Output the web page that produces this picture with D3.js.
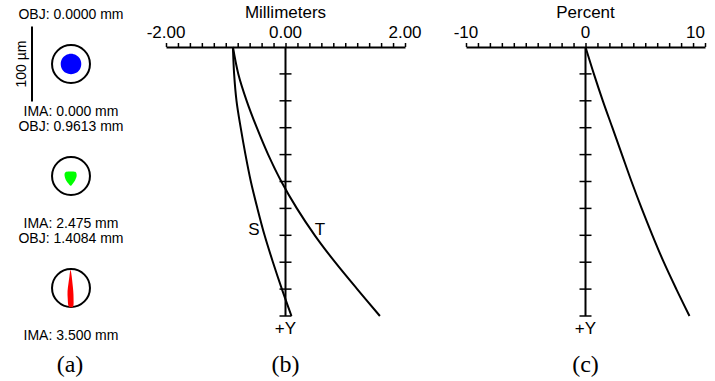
<!DOCTYPE html>
<head>
   <meta charset="utf-8">
   <script src="https://d3js.org/d3.v7.min.js"></script>
   <style>
   body{ margin: 0; background: #ffffff; }
   text{
      font-family: "Liberation Sans", Arial, sans-serif;
      font-size: 17px;
      fill: #000000;
   }
   text.spotLabel{ font-size: 14px; }
   text.scaleLabel{ font-size: 14px; }
   text.panel{
      font-family: "Liberation Serif", "Times New Roman", serif;
      font-size: 24px;
   }
   .tick line{ stroke: #000000; stroke-width: 1.5; }
   path.domain{ stroke: #000000; stroke-width: 2; }
   path.curve{ fill: none; stroke: #000000; stroke-width: 2; }
   </style>
   <title>Spot diagram, field curvature, distortion</title>
</head>
<body>
<script>
const width  = 715;
const height = 381;

// normalised field (0 = on axis, 1 = +Y full field)
const fieldFrac  = [0, 0.1, 0.2, 0.3, 0.4, 0.5, 0.6, 0.7, 0.8, 0.9, 1.0];
// field curvature, mm
const sagittal   = [-0.88, -0.86, -0.82, -0.75, -0.67, -0.58, -0.47, -0.35, -0.21, -0.06, 0.10];
const tangential = [-0.88, -0.79, -0.65, -0.48, -0.29, -0.07, 0.19, 0.49, 0.83, 1.20, 1.58];
// distortion, percent
const distortion = [0, 0.7, 1.45, 2.25, 3.05, 3.85, 4.7, 5.6, 6.55, 7.6, 8.7];

const mmTickLabels  = [-2, 0, 2];
const pctTickLabels = [-10, 0, 10];

// spot diagrams (um, relative to chief ray)
const objLabels = ["OBJ: 0.0000 mm", "OBJ: 0.9613 mm", "OBJ: 1.4084 mm"];
const imaLabels = ["IMA: 0.000 mm", "IMA: 2.475 mm", "IMA: 3.500 mm"];
const spotColours = ["#0000ff", "#00ff00", "#ff0000"];
const airyRadius = 25.3;
const spotBlue  = [[0,-13.7],[7,-11.8],[11.9,-6.9],[13.7,0],[11.9,6.9],[7,11.8],[0,13.7],[-7,11.8],[-11.9,6.9],[-13.7,0],[-11.9,-6.9],[-7,-11.8]];
const spotGreen = [[-8,-4.5],[-4,-6],[2,-6],[6.5,-5],[7.5,0],[5.5,5.5],[2,10.5],[-0.5,13],[-3.5,10],[-7,5],[-8.5,0]];
const spotRed   = [[-0.6,-24],[0.9,-16],[2,-6],[3,4],[3.4,14],[2.8,24.5],[-3,24.5],[-4.4,14],[-4.6,4],[-3.4,-6],[-2,-16]];
const spots = [spotBlue, spotGreen, spotRed];

const svg = d3.select("body").append("svg")
   .attr("width", width)
   .attr("height", height);

const yTop = 47, yBot = 316;

let y = d3.scaleLinear().domain([0, 1]).range([yTop, yBot]);
let xMm = d3.scaleLinear().domain([-2, 2]).range([166, 405]);
let xPct = d3.scaleLinear().domain([-10, 10]).range([466, 705]);

// plain hyphen instead of the unicode minus d3.format gives
const hyphen = f => (d => f(d).replace("\u2212", "-"));

function drawPanel(x, minor, labels, fmt, title, series, panelName){
   const x0 = x(0);

   svg.append("g")
      .attr("transform", `translate(0, ${yTop})`)
      .call(d3.axisTop(x).tickValues(minor).tickSize(4).tickSizeOuter(0).tickFormat(""));

   svg.append("text")
      .attr("x", x0).attr("y", 18)
      .style("text-anchor", "middle")
      .text(title);

   labels.forEach((v, i) => {
      const last = i == labels.length - 1 && panelName == "(c)";
      svg.append("text")
         .attr("x", x(v))
         .attr("y", 38)
         .style("text-anchor", last ? "end" : "middle")
         .text(fmt(v));
   });

   // vertical field axis
   svg.append("line")
      .attr("x1", x0).attr("x2", x0)
      .attr("y1", y(0)).attr("y2", y(1))
      .attr("stroke", "#000").attr("stroke-width", 2);

   svg.selectAll(null)
      .data(fieldFrac.slice(1))
      .enter()
      .append("line")
      .attr("x1", x0 - 6).attr("x2", x0 + 6)
      .attr("y1", d => y(d)).attr("y2", d => y(d))
      .attr("stroke", "#000").attr("stroke-width", 1.5);

   svg.append("text")
      .attr("x", x0).attr("y", 334)
      .style("text-anchor", "middle")
      .text("+Y");

   const line = d3.line()
      .x(d => x(d[1]))
      .y(d => y(d[0]))
      .curve(d3.curveCatmullRom);

   series.forEach(s => {
      svg.append("path")
         .attr("class", "curve")
         .attr("d", line(fieldFrac.map((f, i) => [f, s[i]])));
   });

   svg.append("text")
      .attr("class", "panel")
      .attr("x", x0).attr("y", 372)
      .style("text-anchor", "middle")
      .text(panelName);
}

drawPanel(xMm, d3.range(-2, 2.001, 0.2), mmTickLabels, hyphen(d3.format(".2f")),
   "Millimeters", [sagittal, tangential], "(b)");
drawPanel(xPct, d3.range(-10, 10.001, 1), pctTickLabels, hyphen(d3.format("d")),
   "Percent", [distortion], "(c)");

svg.append("text").attr("x", 254).attr("y", 235).style("text-anchor", "middle").text("S");
svg.append("text").attr("x", 320).attr("y", 235).style("text-anchor", "middle").text("T");

// spot diagrams
const um = d3.scaleLinear().domain([0, 100]).range([0, 75]);
const spotCx = 71;
const spotCy = [64, 176, 288];

svg.append("line")
   .attr("x1", 32).attr("x2", 32)
   .attr("y1", spotCy[0] - um(50)).attr("y2", spotCy[0] + um(50))
   .attr("stroke", "#000").attr("stroke-width", 2);

svg.append("text")
   .attr("class", "scaleLabel")
   .attr("transform", `translate(26, ${spotCy[0]}) rotate(-90)`)
   .style("text-anchor", "middle")
   .text("100 µm");

spots.forEach((pts, i) => {
   const g = svg.append("g").attr("transform", `translate(${spotCx}, ${spotCy[i]})`);
   g.append("circle")
      .attr("r", um(airyRadius))
      .attr("fill", "none")
      .attr("stroke", "#000").attr("stroke-width", 2);
   g.append("path")
      .attr("d", d3.line().x(d => um(d[0])).y(d => um(d[1])).curve(d3.curveCardinalClosed)(pts))
      .attr("fill", spotColours[i]);

   svg.append("text")
      .attr("class", "spotLabel")
      .attr("x", spotCx).attr("y", spotCy[i] - 45)
      .style("text-anchor", "middle")
      .text(objLabels[i]);
   svg.append("text")
      .attr("class", "spotLabel")
      .attr("x", spotCx).attr("y", spotCy[i] + 52)
      .style("text-anchor", "middle")
      .text(imaLabels[i]);
});

svg.append("text")
   .attr("class", "panel")
   .attr("x", 70).attr("y", 372)
   .style("text-anchor", "middle")
   .text("(a)");
</script>
</body>
